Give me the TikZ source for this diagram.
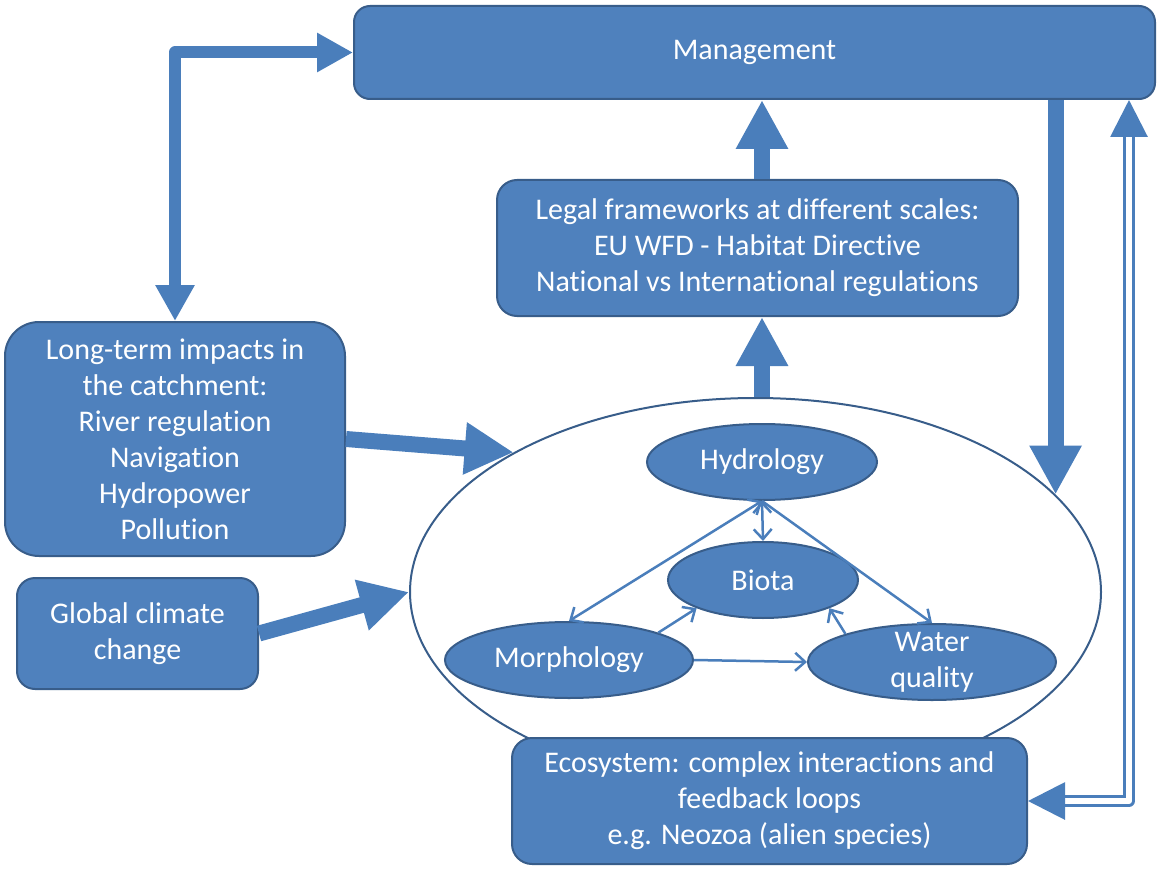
\documentclass[tikz,border=0pt]{standalone}
\usepackage{fontspec}
\setmainfont{Carlito}[Ligatures=NoCommon]
\usetikzlibrary{arrows.meta, shapes.geometric}
\definecolor{boxblue}{RGB}{79,129,189}
\definecolor{edgeblue}{RGB}{56,93,138}
\definecolor{arrowblue}{RGB}{74,126,187}

\begin{document}
\begin{tikzpicture}[x=0.5pt, y=-0.5pt,
    every node/.style={font=\fontsize{15pt}{18pt}\selectfont},
    box/.style={draw=edgeblue, line width=1pt, fill=boxblue, text=white, align=center, inner sep=0pt},
    blob/.style={ellipse, draw=edgeblue, line width=1pt, fill=boxblue, text=white, align=center,
        inner xsep=0pt, inner ysep=-5pt, minimum height=38pt},
    bigarrow/.style={arrowblue, line width=8pt, -{Triangle[length=24.5pt,width=24.5pt]}},
    midarrow/.style={arrowblue, line width=6pt, line join=round,
        {Triangle[length=18pt,width=18.5pt]}-{Triangle[length=18pt,width=18.5pt]}},
    dblarrow/.style={draw=arrowblue, double=white, line width=1.5pt, double distance=3pt, line join=round,
        {Triangle[length=18.5pt,width=18.5pt]}-{Triangle[length=18.5pt,width=18.5pt]}},
    thinarrow/.style={arrowblue, line width=1.25pt, >={Straight Barb[length=5pt,width=9pt]}}]
    \useasboundingbox (0,0) rectangle (1157,872);

    % boxes
    \node[box, minimum width=400.5pt, minimum height=46.5pt, rounded corners=8pt] (mgmt) at (754.5,52.5) {Management};
    \node[box, minimum width=260.5pt, minimum height=68pt, rounded corners=10pt] (legal) at (757.5,248)
        {Legal frameworks at different scales:\\EU WFD - Habitat Directive\\National vs International regulations};
    \node[box, minimum width=170pt, minimum height=117pt, rounded corners=17pt] (impacts) at (175,439)
        {Long-term impacts in\\the catchment:\\River regulation\\Navigation\\Hydropower\\Pollution};
    \node[box, minimum width=120.5pt, minimum height=55.5pt, rounded corners=9pt] (climate) at (137.5,633.5)
        {Global climate\\change};

    % the river system
    \node[ellipse, draw=edgeblue, line width=1pt, minimum width=345.5pt, minimum height=194pt, inner sep=0pt] (system) at (755.5,592) {};
    \node[box, minimum width=257.5pt, minimum height=63pt, rounded corners=10pt] (ecosys) at (769.5,801)
        {Ecosystem: complex interactions and\\feedback loops\\e.g. Neozoa (alien species)};

    \node[blob, minimum width=115pt] (hydro) at (762,462) {Hydrology};
    \node[blob, minimum width=95pt] (biota) at (763,580) {Biota};
    \node[blob, minimum width=124pt] (morph) at (569,660) {Morphology};
    \node[blob, minimum width=124pt] (water) at (932,662) {Water\\quality};

    \draw[thinarrow, <->] (hydro.south) -- (morph.north);
    \draw[thinarrow, ->] (hydro.south) -- (water.north);
    \draw[thinarrow, <->] (hydro.south) -- (biota.north);
    \draw[thinarrow, ->] (morph.17) -- (biota.203);
    \draw[thinarrow, ->] (water.162) -- (biota.337);
    \draw[thinarrow, ->] (morph.east) -- (water.west);

    % links between the boxes
    \coordinate (corner) at (1129,801);
    \draw[bigarrow] (legal.north -| hydro) -- (mgmt.south -| hydro);
    \draw[bigarrow] (system.north -| hydro) -- (legal.south -| hydro);
    \draw[bigarrow] (impacts.east) -- (system.150);
    \draw[bigarrow] (climate.east) -- (system.west);
    \draw[bigarrow] (mgmt.south -| system.18) -- (system.18);
    \draw[midarrow] (impacts.north) |- (mgmt.west);
    \draw[dblarrow] (mgmt.south -| corner) -- (corner) -- (ecosys.east);
\end{tikzpicture}
\end{document}
